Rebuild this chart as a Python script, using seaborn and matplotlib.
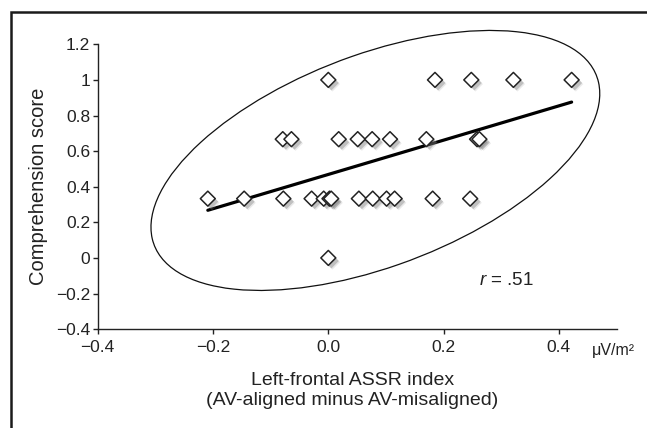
import matplotlib.pyplot as plt
import matplotlib.patheffects as pe
from matplotlib.patches import Ellipse, Rectangle
import numpy as np
import pandas as pd
import seaborn as sns

sns.set_style("ticks")
plt.rcParams['font.family'] = ['Liberation Sans', 'DejaVu Sans']
plt.rcParams['mathtext.fontset'] = 'custom'
plt.rcParams['mathtext.rm'] = 'Liberation Sans'
plt.rcParams['mathtext.it'] = 'Liberation Sans:italic'

# values
assr_index = [0.000, 0.185, 0.248, 0.321, 0.422,
              -0.079, -0.064, 0.018, 0.051, 0.076, 0.107, 0.170, 0.258, 0.262,
              -0.209, -0.146, -0.078, -0.029, -0.008, 0.002, 0.005, 0.053,
              0.077, 0.101, 0.115, 0.181, 0.246,
              0.000]
comprehension = [1.0, 1.0, 1.0, 1.0, 1.0,
                 0.667, 0.667, 0.667, 0.667, 0.667, 0.667, 0.667, 0.667, 0.667,
                 0.333, 0.333, 0.333, 0.333, 0.333, 0.333, 0.333, 0.333,
                 0.333, 0.333, 0.333, 0.333, 0.333,
                 0.0]
xticks = [-0.4, -0.2, 0.0, 0.2, 0.4]
xticklabels = ["\u22120.4", "\u22120.2", "0.0", "0.2", "0.4"]
yticks = [-0.4, -0.2, 0.0, 0.2, 0.4, 0.6, 0.8, 1.0, 1.2]
yticklabels = ["\u22120.4", "\u22120.2", "0", "0.2", "0.4", "0.6", "0.8", "1", "1.2"]

df = pd.DataFrame({"x": assr_index, "y": comprehension})

fig = plt.figure(figsize=(6.47, 4.28), dpi=100)
ax = fig.add_axes([0.151, 0.231, 0.802, 0.6655])

# confidence ellipse from the covariance of the points
cov = np.cov(df.x, df.y)
vals, vecs = np.linalg.eigh(cov)
angle = np.degrees(np.arctan2(vecs[1, -1], vecs[0, -1]))
n_std = 2.65
ell = Ellipse((df.x.mean(), df.y.mean()), 2 * n_std * np.sqrt(vals[-1]),
              2 * n_std * np.sqrt(vals[0]), angle=angle,
              facecolor='none', edgecolor='#111111', lw=0.9, zorder=1,
              clip_on=False)
ax.add_patch(ell)

# fit line
sns.regplot(data=df, x="x", y="y", scatter=False, ci=None, ax=ax,
            line_kws=dict(color='black', lw=2.3, zorder=2))

shadow = [pe.SimplePatchShadow(offset=(3.0, -3.0), shadow_rgbFace='0.6', alpha=0.2),
          pe.SimplePatchShadow(offset=(2.2, -2.2), shadow_rgbFace='0.45', alpha=0.35),
          pe.Normal()]
sns.scatterplot(data=df, x="x", y="y", marker='D', s=58, color='white',
                edgecolor='#222222', linewidth=1.1, ax=ax, zorder=3,
                path_effects=shadow, clip_on=False)

ax.set_xlim(-0.4, 0.5)
ax.set_ylim(-0.4, 1.2)
ax.set_xticks(xticks, xticklabels)
ax.set_yticks(yticks, yticklabels)
ax.tick_params(direction='out', length=3.5, width=1, colors='#222222',
               labelsize=12.5, labelcolor='#222222')
ax.tick_params(axis='x', pad=4)
ax.tick_params(axis='y', pad=2)
for s in ['top', 'right']:
    ax.spines[s].set_visible(False)
for s in ['left', 'bottom']:
    ax.spines[s].set_color('#222222')
    ax.spines[s].set_linewidth(1)

ax.set_ylabel("Comprehension score", fontsize=14.5, color='#222222')
ax.yaxis.set_label_coords(-0.095, 0.5)
ax.set_xlabel("Left-frontal ASSR index\n(AV-aligned minus AV-misaligned)",
              fontsize=14, color='#222222', linespacing=1.2)
ax.xaxis.set_label_coords(0.491, -0.152)

ax.text(0.309, -0.128, "$r$ = .51", fontsize=13.5, ha='center', va='center',
        color='#222222')
fig.text(613 / 647, 1 - 350 / 428, "\u03bcV/m\u00b2", fontsize=11.5,
         ha='center', va='center', color='#222222')

# panel frame
fig.patches.append(Rectangle((11 / 647, -0.1), 1.2, 1.1 - 12 / 428,
                             transform=fig.transFigure, fill=False,
                             edgecolor='#1a1a1a', lw=1.8))

fig.savefig("out.png", dpi=100)
